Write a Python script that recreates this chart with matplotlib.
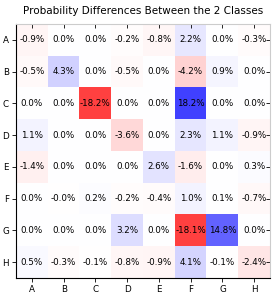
import numpy as np
import matplotlib
matplotlib.use('Agg')
import matplotlib.pyplot as plt

labels = ['A', 'B', 'C', 'D', 'E', 'F', 'G', 'H']

# percentage point differences, rows A..H, columns A..H
row_a = [-0.9, 0.0, 0.0, -0.2, -0.8, 2.2, 0.0, -0.3]
row_b = [-0.5, 4.3, 0.0, -0.5, 0.0, -4.2, 0.9, 0.0]
row_c = [0.0, 0.0, -18.2, 0.0, 0.0, 18.2, 0.0, 0.0]
row_d = [1.1, 0.0, 0.0, -3.6, 0.0, 2.3, 1.1, -0.9]
row_e = [-1.4, 0.0, 0.0, 0.0, 2.6, -1.6, 0.0, 0.3]
row_f = [0.0, -0.01, 0.2, -0.2, -0.4, 1.0, 0.1, -0.7]
row_g = [0.0, 0.0, 0.0, 3.2, 0.0, -18.1, 14.8, 0.0]
row_h = [0.5, -0.3, -0.1, -0.8, -0.9, 4.1, -0.1, -2.4]

diff = np.array([row_a, row_b, row_c, row_d, row_e, row_f, row_g, row_h])
vmax = np.abs(diff).max()

fig = plt.figure(figsize=(2.79, 2.98), dpi=100)
ax = fig.add_axes([16 / 279, 1 - 278 / 298, 254 / 279, 254 / 298])

ax.imshow(diff, cmap='bwr_r', vmin=-vmax, vmax=vmax, alpha=0.75,
          aspect='auto')

for i in range(diff.shape[0]):
    for j in range(diff.shape[1]):
        ax.text(j, i, '%.1f%%' % diff[i, j], ha='center', va='center',
                fontsize=6.3, color='black')

ax.set_xticks(range(len(labels)))
ax.set_yticks(range(len(labels)))
ax.set_xticklabels(labels, fontsize=6.3)
ax.set_yticklabels(labels, fontsize=6.3)
ax.tick_params(axis='both', length=3, width=0.6, pad=2)
ax.tick_params(top=True, right=True, which='both')
ax.tick_params(axis='x', direction='out')
ax.tick_params(axis='y', direction='out')
# top/right ticks point inward
for tick in ax.xaxis.get_major_ticks():
    tick.tick2line.set_marker(3)
for tick in ax.yaxis.get_major_ticks():
    tick.tick2line.set_marker(0)

ax.spines['left'].set_color('black')
ax.spines['bottom'].set_color('black')
ax.spines['top'].set_color('#cccccc')
ax.spines['right'].set_color('#cccccc')
for s in ax.spines.values():
    s.set_linewidth(0.8)

ax.set_title('Probability Differences Between the 2 Classes', fontsize=7.5,
             pad=7)

fig.savefig('out.png', dpi=100)
